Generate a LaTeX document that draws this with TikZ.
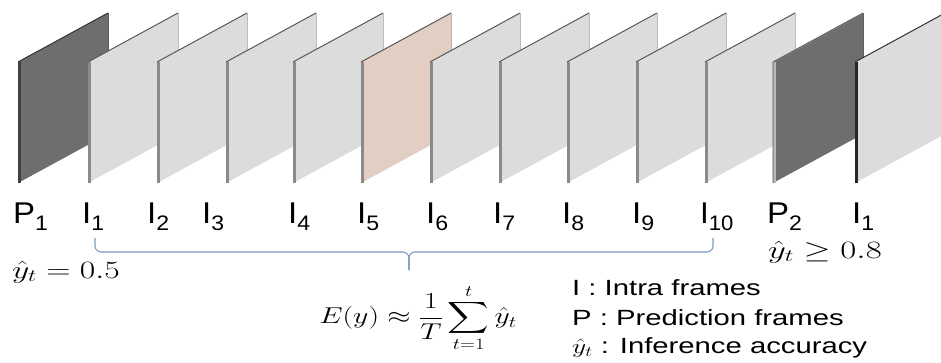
\documentclass[tikz,border=0pt]{standalone}
\usepackage{amsmath,amssymb}
\usepackage{graphicx}
\usepackage[no-math]{fontspec}
\setmainfont{Liberation Sans}
\usepackage{xcolor}
\usepackage{tikz}
\usetikzlibrary{calc}

\definecolor{platelight}{HTML}{DCDCDC}
\definecolor{platedark}{HTML}{6E6E6E}
\definecolor{platepeach}{HTML}{E3CEC3}
\definecolor{sidegray}{HTML}{8A8A8A}
\definecolor{braceblue}{HTML}{7A97C2}

% one frame plate: x of left edge, fill, side colour, top colour
\newcommand{\plate}[4]{%
  \fill[#2] (#1,183) -- ++(0,-121) -- ++(90,-49) -- ++(0,121) -- cycle;
  \draw[#2!85!black, line width=0.6pt] (#1+90,13) -- ++(0,121);
  \draw[#3, line width=2.6pt] (#1+1.3,183) -- ++(0,-121);
  \draw[#4, line width=1pt] (#1,62) -- ++(90,-49);
}
\newcommand{\sub}[1]{\raisebox{-7pt}{\fontsize{21}{21}\selectfont #1}}
\newcommand{\wide}[2]{\scalebox{#1}[1]{#2}}

\begin{document}
\begin{tikzpicture}[
    x=1pt,y=-1pt,
    lbl/.style={font=\fontsize{30}{30}\selectfont, inner sep=0pt, anchor=base west},
    note/.style={font=\fontsize{22}{24}\selectfont, inner sep=0pt, anchor=west},
    eq/.style={font=\fontsize{24}{26}\selectfont, inner sep=0pt},
    brace/.style={draw=braceblue, line width=1.1pt, rounded corners=6pt}
]
\useasboundingbox (0,0) rectangle (941,362);

% Frames (later ones cover earlier ones)
\plate{18}{platedark}{black!75}{black!80}
\foreach \xf in {88,157,226,293} {\plate{\xf}{platelight}{sidegray}{black!65}}
\plate{361}{platepeach}{sidegray}{black!65}
\foreach \xf in {430,499,567,636,705} {\plate{\xf}{platelight}{sidegray}{black!65}}
\plate{773}{platedark}{gray!55}{gray!60}
\draw[black!70, line width=0.6pt] (773,183) -- ++(0,-121) -- ++(90,-49);
\plate{855}{platelight}{black!85}{black!80}

% Frame labels
\node[lbl] (lp1) at (13,223) {\wide{1.1}{P\sub{1}}};
\node[lbl] (li1) at (82,223) {\wide{1.1}{I\sub{1}}};
\node[lbl] (li2) at (147,223) {\wide{1.1}{I\sub{2}}};
\node[lbl] (li3) at (202,223) {\wide{1.1}{I\sub{3}}};
\node[lbl] (li4) at (288,223) {\wide{1.1}{I\sub{4}}};
\node[lbl] (li5) at (357,223) {\wide{1.1}{I\sub{5}}};
\node[lbl] (li6) at (426,223) {\wide{1.1}{I\sub{6}}};
\node[lbl] (li7) at (493,223) {\wide{1.1}{I\sub{7}}};
\node[lbl] (li8) at (562,223) {\wide{1.1}{I\sub{8}}};
\node[lbl] (li9) at (632,223) {\wide{1.1}{I\sub{9}}};
\node[lbl] (li10) at (700,223) {\wide{1.05}{I\sub{10}}};
\node[lbl] (lp2) at (767,223) {\wide{1.1}{P\sub{2}}};
\node[lbl] (lnext) at (852,223) {\wide{1.1}{I\sub{1}}};

% Brace over I1..I10
\coordinate (bl) at (95,238);
\coordinate (br) at (713,238);
\coordinate (bmid) at (409,252);
\coordinate (btip) at (409,270);
\draw[brace] (bl) |- (bmid) -- (btip);
\draw[brace] (br) |- (bmid) -- (btip);

% Accuracy values and expectation
\node[eq] (acc0) at (66,272) {\wide{1.35}{$\hat{y}_t = 0.5$}};
\node[eq] (acc1) at (825,252) {\wide{1.4}{$\hat{y}_t \geq 0.8$}};
\node[eq] (expect) at (418,318) {\scalebox{1.2}[0.92]{$\displaystyle E(y) \approx \frac{1}{T}\sum_{t=1}^{t}\hat{y}_t$}};

% Legend
\node[note] (keyi) at (572,288) {\wide{1.33}{I : Intra frames}};
\node[note] (keyp) at (572,318) {\wide{1.33}{P : Prediction frames}};
\node[note] (keyy) at (572,348) {\wide{1.33}{$\hat{y}_t$ : Inference accuracy}};
\end{tikzpicture}
\end{document}
